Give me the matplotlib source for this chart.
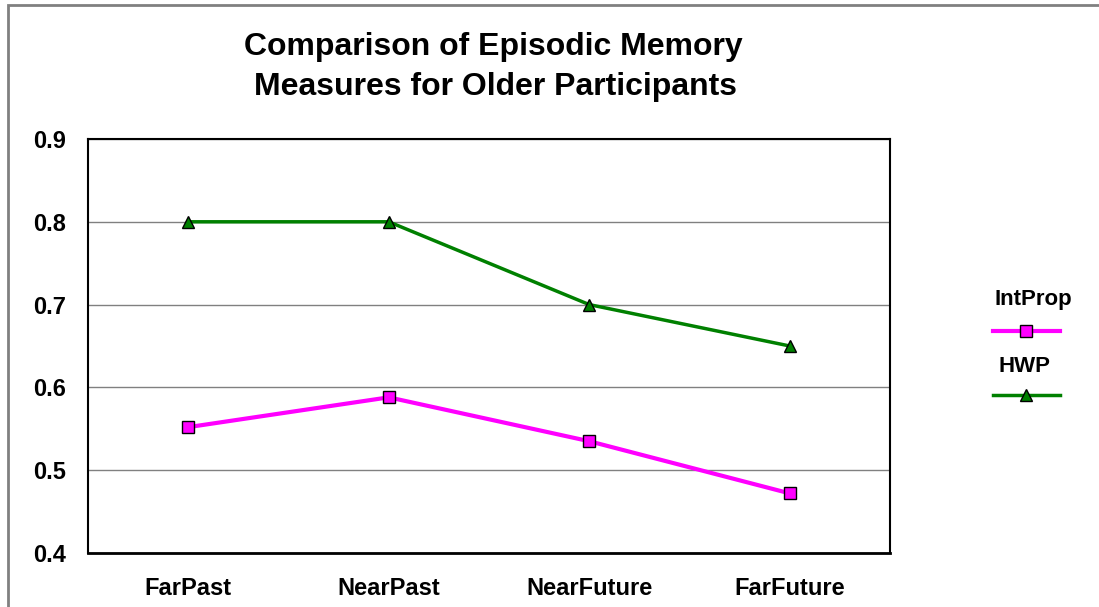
import numpy as np
import matplotlib.pyplot as plt
from matplotlib.lines import Line2D
from matplotlib.patches import Rectangle

plt.rcParams['font.family'] = ['Liberation Sans', 'DejaVu Sans']

# Data
categories = ['FarPast', 'NearPast', 'NearFuture', 'FarFuture']
intprop = [0.552, 0.588, 0.535, 0.472]
hwp = [0.80, 0.80, 0.70, 0.65]
y_ticks = [0.4, 0.5, 0.6, 0.7, 0.8, 0.9]

fig = plt.figure(figsize=(10.99, 6.07), dpi=100)
ax = fig.add_axes([88 / 1099, 54 / 607, 802 / 1099, 414 / 607])

x = np.arange(len(categories))
ax.plot(x, intprop, color='#FF00FF', lw=3, marker='s', ms=8,
        mfc='#FF00FF', mec='black', mew=1, zorder=4)
ax.plot(x, hwp, color='#008000', lw=2.5, marker='^', ms=8,
        mfc='#008000', mec='black', mew=1, zorder=4)

ax.set_xlim(-0.5, len(categories) - 0.5)
ax.set_ylim(0.4, 0.9)
ax.set_yticks(y_ticks)
ax.set_yticklabels([f"{t:.1f}" for t in y_ticks], fontsize=17, fontweight='bold')
ax.set_xticks(x)
ax.set_xticklabels(categories, fontsize=17, fontweight='bold')
ax.tick_params(axis='y', length=0, pad=16)
ax.tick_params(axis='x', length=0, pad=17)

# gridlines
ax.yaxis.grid(True, color='#808080', lw=1)
ax.set_axisbelow(True)
for s in ax.spines.values():
    s.set_color('black')
    s.set_linewidth(1.5)
ax.spines['bottom'].set_linewidth(2)

# Title
fig.text(493 / 1099, 1 - 47 / 607, 'Comparison of Episodic Memory', ha='center', va='center',
         fontsize=23, fontweight='bold')
fig.text(495 / 1099, 1 - 87 / 607, 'Measures for Older Participants', ha='center', va='center',
         fontsize=23, fontweight='bold')

# Legend (label above sample line)
fig.text(1033 / 1099, 1 - 300 / 607, 'IntProp', ha='center', va='center',
         fontsize=16, fontweight='bold')
fig.add_artist(Line2D([993 / 1099, 1060 / 1099], [1 - 331 / 607] * 2, color='#FF00FF', lw=3))
fig.add_artist(Line2D([1026 / 1099], [1 - 331 / 607], marker='s', ms=8, mfc='#FF00FF',
                      mec='black', mew=1, lw=0))
fig.text(1024 / 1099, 1 - 366 / 607, 'HWP', ha='center', va='center',
         fontsize=16, fontweight='bold')
fig.add_artist(Line2D([993 / 1099, 1060 / 1099], [1 - 395 / 607] * 2, color='#008000', lw=2.5))
fig.add_artist(Line2D([1026 / 1099], [1 - 395 / 607], marker='^', ms=8, mfc='#008000',
                      mec='black', mew=1, lw=0))

# chart area border
fig.add_artist(Rectangle((8 / 1099, -0.05), 1.2, 1 - 5 / 607 + 0.05, transform=fig.transFigure,
                         fill=False, edgecolor='#808080', lw=2))

fig.savefig('out.png', dpi=100)
